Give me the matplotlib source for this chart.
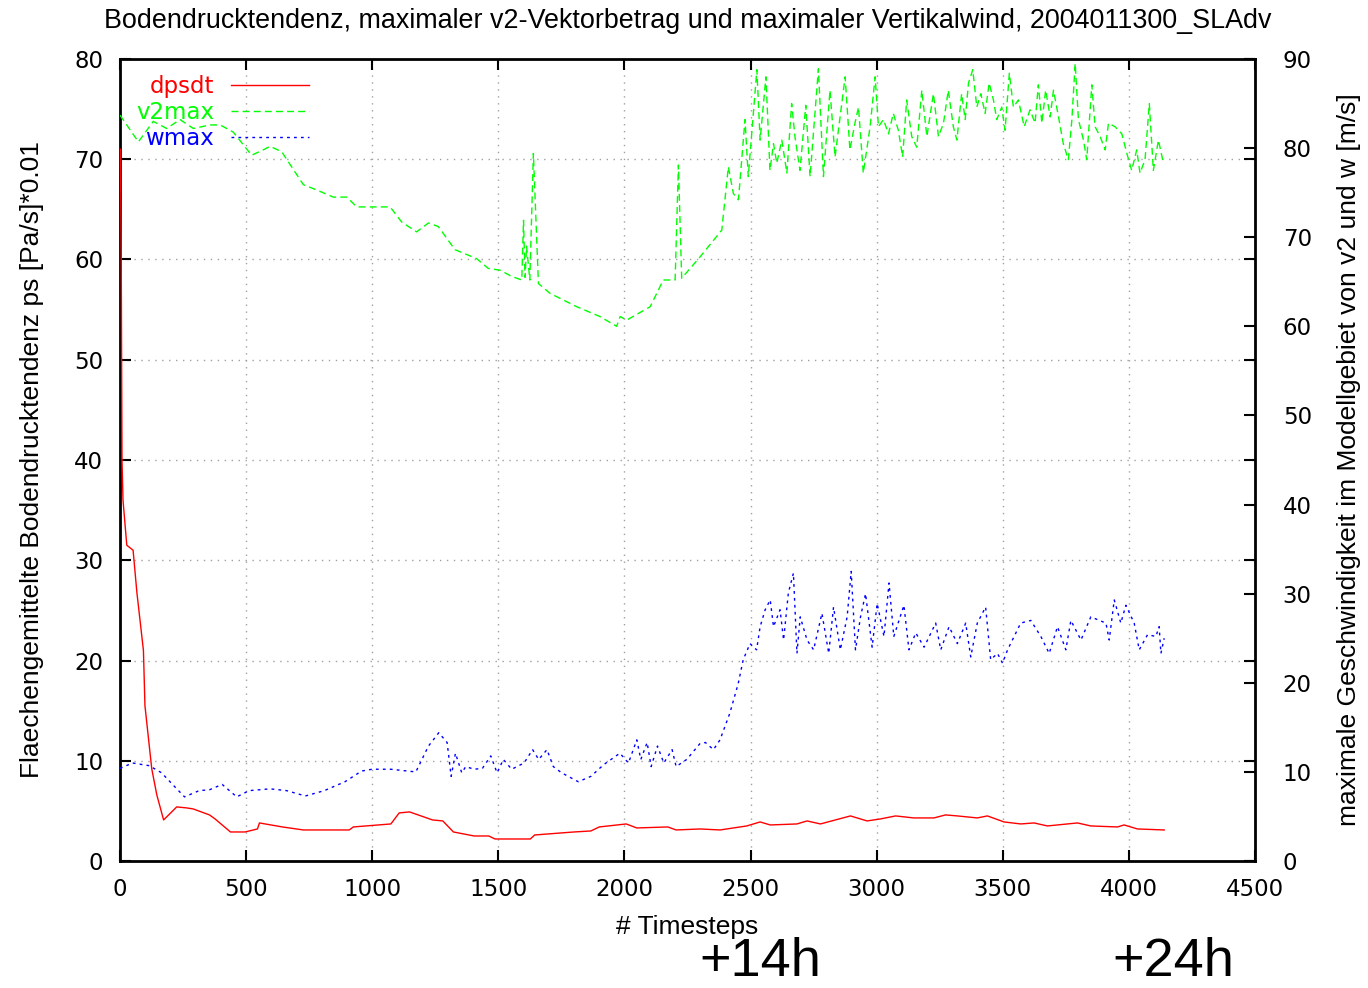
import matplotlib
matplotlib.use("Agg")
import matplotlib.pyplot as plt

# dpsdt (left axis)
dpsdt_t = [2, 5, 8, 12, 27, 52, 67, 93, 99, 126, 146, 173, 225, 264, 290, 355, 377,
           438, 496, 545, 553, 644, 727, 909, 925, 1074, 1107, 1148, 1239, 1280,
           1322, 1404, 1462, 1487, 1627, 1644, 1800, 1867, 1900, 2007, 2049, 2172,
           2205, 2300, 2379, 2485, 2538, 2578, 2684, 2724, 2777, 2896, 2962, 3015,
           3075, 3147, 3227, 3273, 3320, 3399, 3439, 3505, 3571, 3624, 3677, 3796,
           3849, 3955, 3981, 4034, 4140]
dpsdt_v = [71, 60, 40, 36, 31.5, 31, 26.8, 21, 15.5, 9.2, 6.6, 4.1, 5.4, 5.3, 5.2, 4.6, 4.2,
           2.9, 2.9, 3.2, 3.8, 3.4, 3.1, 3.1, 3.4, 3.7, 4.8, 4.9, 4.1, 4.0,
           2.9, 2.5, 2.5, 2.2, 2.2, 2.6, 2.9, 3.0, 3.4, 3.7, 3.3, 3.4,
           3.1, 3.2, 3.1, 3.5, 3.9, 3.6, 3.7, 4.0, 3.7, 4.5, 4.0, 4.2,
           4.5, 4.3, 4.3, 4.6, 4.5, 4.3, 4.5, 3.9, 3.7, 3.8, 3.5, 3.8,
           3.5, 3.4, 3.6, 3.2, 3.1]

# v2max (right axis)
v2max_t = [0, 73, 132, 185, 238, 291, 357, 397, 449, 522, 568, 595, 641, 727, 780, 846,
           899, 939, 1071, 1117, 1176, 1223, 1262, 1328, 1414, 1460, 1507, 1553, 1593,
           1600, 1606, 1612, 1625, 1639, 1659, 1705, 1811, 1903, 1969, 1983, 2009, 2102,
           2154, 2201, 2214, 2227, 2300, 2386, 2412, 2432, 2452,
           2478, 2491, 2525, 2538, 2561, 2577, 2591, 2604, 2624, 2644,
           2663, 2676, 2696, 2719, 2736, 2769, 2789, 2815, 2835, 2855,
           2875, 2894, 2914, 2928, 2947, 2974, 2994, 3007, 3027, 3047,
           3066, 3086, 3103, 3119, 3139, 3159, 3179, 3199, 3225, 3245,
           3265, 3284, 3304, 3318, 3337, 3351, 3364, 3381, 3397, 3413,
           3430, 3446, 3463, 3476, 3496, 3509, 3526, 3542, 3562, 3585,
           3608, 3628, 3641, 3655, 3670, 3688, 3701, 3721, 3740, 3760,
           3774, 3787, 3800, 3820, 3833, 3853, 3866, 3886, 3906, 3919,
           3945, 3972, 3992, 4011, 4031, 4044, 4064, 4081, 4097, 4117, 4137]
v2max_v = [83.7, 80.7, 83.0, 82.2, 83.2, 82.2, 82.6, 82.6, 81.8, 79.2, 79.8, 80.2, 79.6,
           75.9, 75.3, 74.5, 74.5, 73.4, 73.4, 71.7, 70.6, 71.6, 71.2, 68.6, 67.6, 66.5,
           66.3, 65.6, 65.2, 71.9, 65.5, 69.0, 65.2, 79.4, 64.8, 63.7, 62.2, 61.1, 60.0,
           61.1, 60.7, 62.2, 65.2, 65.2, 78.1, 65.4, 67.8, 70.8, 77.9, 74.9, 74.2,
           83.2, 76.8, 88.8, 80.9, 88.0, 77.5, 80.5, 78.3, 80.9, 77.2,
           85.0, 81.3, 77.5, 84.8, 76.8, 88.9, 76.8, 86.5, 79.0, 83.5,
           88.0, 79.8, 82.8, 84.6, 77.2, 82.4, 88.0, 82.4, 83.2, 81.6,
           83.9, 82.0, 79.0, 85.4, 81.3, 80.1, 86.5, 81.3, 86.1, 81.3,
           82.8, 86.5, 82.4, 80.9, 86.1, 83.2, 87.3, 88.8, 84.6, 86.1,
           83.9, 87.3, 85.4, 83.2, 84.6, 82.0, 88.4, 84.6, 85.4, 82.4,
           84.3, 82.8, 87.1, 82.8, 86.5, 83.5, 86.5, 83.5, 80.5, 78.7,
           83.2, 89.5, 83.2, 80.9, 78.7, 87.1, 82.4, 81.3, 79.8, 82.8,
           82.4, 81.6, 79.4, 77.5, 79.8, 77.2, 78.7, 85.0, 77.5, 80.9, 78.3]

# wmax (right axis)
wmax_t = [0, 50, 116, 165, 215, 256, 314, 355, 405, 463, 512, 595, 661, 735, 810, 892,
          958, 999, 1074, 1173, 1223, 1264, 1297, 1313, 1330, 1355, 1371, 1404, 1437,
          1470, 1495, 1520, 1553, 1602, 1636, 1660, 1693, 1718, 1751, 1817, 1867, 1917,
          1982, 2016, 2049, 2065, 2090, 2106, 2131, 2156, 2189, 2205, 2247, 2300, 2321,
          2353, 2379, 2418, 2451, 2471, 2498, 2524, 2538, 2558, 2578, 2591, 2617, 2631,
          2650, 2670, 2684, 2697, 2724, 2750, 2783, 2810, 2829, 2856, 2883, 2899, 2916,
          2936, 2956, 2982, 3002, 3029, 3049, 3068, 3108, 3128, 3155, 3188, 3234, 3254,
          3287, 3320, 3353, 3373, 3399, 3432, 3452, 3479, 3499, 3519, 3571, 3611, 3651,
          3684, 3717, 3750, 3770, 3810, 3849, 3909, 3922, 3942, 3968, 3988, 4021, 4041,
          4074, 4107, 4120, 4127, 4140]
wmax_v = [10.4, 11.0, 10.7, 9.9, 8.4, 7.2, 7.9, 8.0, 8.6, 7.2, 7.9, 8.1, 7.9, 7.3, 7.9, 8.9,
          10.1, 10.3, 10.3, 10.0, 12.9, 14.4, 13.3, 9.5, 12.1, 9.9, 10.6, 10.3, 10.4,
          11.8, 9.9, 11.4, 10.3, 11.0, 12.5, 11.4, 12.5, 10.6, 9.9, 8.9, 9.5, 10.8,
          12.1, 11.0, 13.6, 11.4, 13.3, 10.6, 12.9, 11.0, 12.5, 10.6, 11.4, 13.2, 13.3,
          12.5, 13.6, 16.6, 19.9, 22.6, 24.4, 23.7, 26.3, 28.2, 29.3, 26.3, 28.2, 24.8,
          30.1, 32.3, 23.3, 27.4, 24.8, 23.7, 27.8, 23.3, 28.5, 23.7, 27.4, 32.5, 23.7,
          27.4, 30.0, 24.0, 28.9, 25.2, 31.2, 25.2, 28.7, 23.7, 25.6, 24.0, 26.7, 23.7,
          26.3, 24.4, 26.7, 22.9, 26.7, 28.5, 22.6, 23.3, 22.2, 23.7, 26.7, 27.0, 25.2,
          23.3, 26.3, 23.7, 27.0, 24.8, 27.4, 26.7, 24.8, 29.3, 26.7, 28.7, 26.7, 23.7,
          25.4, 25.2, 26.3, 23.3, 25.0]

x_ticks = list(range(0, 4501, 500))
y1_ticks = list(range(0, 81, 10))
y2_ticks = list(range(0, 91, 10))

fig = plt.figure(figsize=(13.68, 9.88), dpi=100)
ax = fig.add_axes([0.0877, 0.1285, 0.8297, 0.8118])
ax2 = ax.twinx()

l1, = ax2.plot([], [], color="#ff0000", lw=1.0, label="dpsdt")
ax.plot(dpsdt_t, dpsdt_v, color="#ff0000", lw=1.0, zorder=3, clip_on=False)
l2, = ax2.plot(v2max_t, v2max_v, color="#00ff00", lw=1.0, ls=(0, (5, 3)), label="v2max")
l3, = ax2.plot(wmax_t, wmax_v, color="#0000ff", lw=1.0, ls=(0, (2, 3)), label="wmax")
for s in ax2.spines.values():
    s.set_visible(False)

ax.set_xlim(0, 4500)
ax.set_ylim(0, 80)
ax2.set_ylim(0, 90)
ax.set_xticks(x_ticks)
ax.set_yticks(y1_ticks)
ax2.set_yticks(y2_ticks)
ax.grid(True, ls=(0, (1, 4)), color="#a0a0a0", lw=1.0)

ax.tick_params(axis="both", direction="in", length=8, width=1.5, top=True, right=True,
               labelsize=16.5)
ax.tick_params(axis="x", pad=12)
ax.tick_params(axis="y", pad=12)
ax2.tick_params(axis="y", direction="in", length=8, width=1.5, labelsize=16.5, pad=20)
for s in ax.spines.values():
    s.set_linewidth(2)

ax.set_title("Bodendrucktendenz, maximaler v2-Vektorbetrag und maximaler Vertikalwind, 2004011300_SLAdv",
             fontsize=19.4, family="Liberation Sans", pad=22)
ax.set_xlabel("# Timesteps", fontsize=19, family="Liberation Sans", labelpad=10)
ax.set_ylabel("Flaechengemittelte Bodendrucktendenz ps [Pa/s]*0.01", fontsize=19,
              family="Liberation Sans", labelpad=22)
ax2.set_ylabel("maximale Geschwindigkeit im Modellgebiet von v2 und w [m/s]", fontsize=19,
               family="Liberation Sans", labelpad=18)

leg = ax2.legend(handles=[l1, l2, l3], loc="upper left", frameon=False, markerfirst=False,
                 labelcolor="linecolor", fontsize=16.5, handlelength=3.4, handletextpad=0.75,
                 labelspacing=0.13, borderaxespad=0.3, bbox_to_anchor=(0.0, 1.0))
for t in leg.get_texts():
    t.set_ha("right")

fig.text(0.556, 0.001, "+14h", fontsize=39, family="Liberation Sans", ha="center",
         va="bottom")
fig.text(0.858, 0.001, "+24h", fontsize=39, family="Liberation Sans", ha="center",
         va="bottom")

fig.savefig("out.png", dpi=100)
